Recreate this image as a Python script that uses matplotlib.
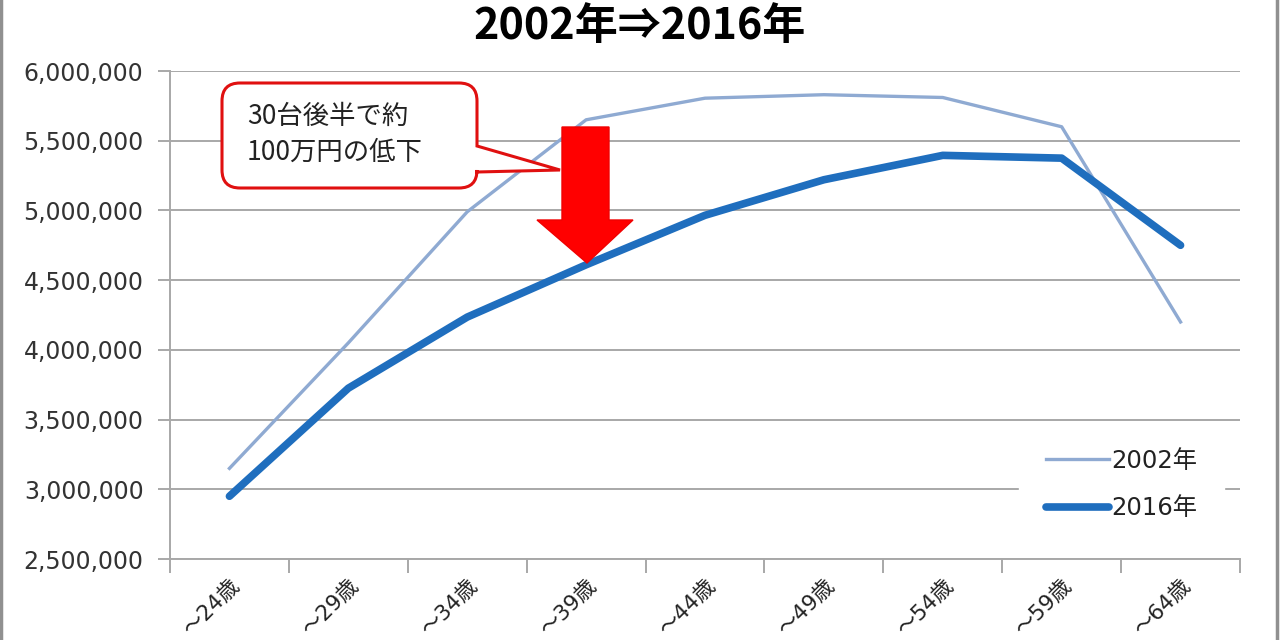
import numpy as np
import matplotlib.pyplot as plt
from matplotlib.patches import PathPatch, Polygon, Rectangle
from matplotlib.path import Path
from matplotlib.transforms import Affine2D
from matplotlib.ticker import FuncFormatter

plt.rcParams['font.family'] = ['DejaVu Sans', 'Noto Sans CJK JP']

ages = ["～24歳", "～29歳", "～34歳", "～39歳", "～44歳",
        "～49歳", "～54歳", "～59歳", "～64歳"]
y2002 = [3150000, 4050000, 4990000, 5650000, 5805000, 5830000, 5810000, 5600000, 4200000]
y2016 = [2950000, 3725000, 4235000, 4610000, 4965000, 5220000, 5395000, 5375000, 4750000]

fig = plt.figure(figsize=(12.8, 6.4), dpi=100)
ax = fig.add_axes([170/1280, 1-559/640, 1070/1280, 488/640])
x = np.arange(len(ages))

ax.plot(x, y2002, color='#8FAAD2', lw=2.4, label='2002年', zorder=3)
ax.plot(x, y2016, color='#1F6EBE', lw=5.5, label='2016年', zorder=4,
        solid_capstyle='round')

ax.set_xlim(-0.5, len(ages) - 0.5)
ax.set_ylim(2500000, 6000000)
ax.set_yticks(np.arange(2500000, 6000001, 500000))
ax.yaxis.set_major_formatter(FuncFormatter(lambda v, p: f"{int(v):,}"))
ax.grid(axis='y', color='#A8A8A8', lw=1.4, zorder=0)
ax.set_xticks(x)
ax.set_xticklabels(ages, rotation=45, ha='right', va='top',
                   rotation_mode='anchor', fontsize=15.5, color='#222222')
ax.set_xticks(np.arange(-0.5, len(ages)), minor=True)
ax.tick_params(axis='x', which='major', length=0, pad=12)
ax.tick_params(axis='x', which='minor', length=10, color='#A8A8A8', width=1.4)
ax.tick_params(axis='y', length=9, color='#A8A8A8', width=1.4,
               labelsize=17, labelcolor='#333333', pad=10)
for s in ['top', 'right']:
    ax.spines[s].set_visible(False)
for s in ['left', 'bottom']:
    ax.spines[s].set_color('#A8A8A8')
    ax.spines[s].set_linewidth(1.4)

leg = ax.legend(loc='lower right', bbox_to_anchor=(0.99, 0.015), fontsize=17.5,
                frameon=True, handlelength=2.6, handletextpad=0.1,
                labelspacing=0.95, borderpad=0.8)
leg.get_frame().set_edgecolor('white')
leg.get_frame().set_facecolor('white')
leg.get_frame().set_alpha(1)
leg.get_frame().set_boxstyle('square')
for t in leg.get_texts():
    t.set_color('#222222')

# pixel transform (origin top-left) for the annotations
T = Affine2D().scale(1/1280, -1/640).translate(0, 1) + fig.transFigure

# callout box with pointer, as one path
L, R, Tp, B, r = 222, 477, 83, 188, 18
verts = [(L + r, Tp), (R - r, Tp), (R, Tp), (R, Tp + r),
         (R, 146), (560, 170), (R, 172),
         (R, B - r), (R, B), (R - r, B), (L + r, B), (L, B), (L, B - r),
         (L, Tp + r), (L, Tp), (L + r, Tp), (L + r, Tp)]
codes = [Path.MOVETO, Path.LINETO, Path.CURVE3, Path.CURVE3,
         Path.LINETO, Path.LINETO, Path.LINETO,
         Path.LINETO, Path.CURVE3, Path.CURVE3, Path.LINETO, Path.CURVE3, Path.CURVE3,
         Path.LINETO, Path.CURVE3, Path.CURVE3, Path.CLOSEPOLY]
callout = PathPatch(Path(verts, codes), transform=T, fc='white', ec='#E01010',
                    lw=2.2, zorder=6, clip_on=False)
ax.add_patch(callout)
ax.text(247, 116, "30台後半で約", transform=T, fontsize=19,
        family=['Noto Sans CJK JP'], va='center', ha='left', color='#222222', zorder=9)
ax.text(247, 152, "100万円の低下", transform=T, fontsize=19,
        family=['Noto Sans CJK JP'], va='center', ha='left', color='#222222', zorder=9)

# red arrow
arrow = Polygon([(562, 127), (609, 127), (609, 220), (633, 220), (587, 263),
                 (537, 220), (562, 220)], transform=T, fc='#FF0000', ec='#F00000',
                lw=1, zorder=10, clip_on=False)
ax.add_patch(arrow)

fig.text(0.5, 1 - 39/640, "2002年⇒2016年", ha='center', va='baseline',
         fontsize=31, fontweight='bold', family=['Noto Sans CJK JP', 'DejaVu Sans'])

fig.patches.append(Rectangle((0.001, -0.01), 0.997, 1.02, transform=fig.transFigure,
                             fill=False, ec='#909090', lw=2.5))

fig.savefig('out.png', dpi=100)
